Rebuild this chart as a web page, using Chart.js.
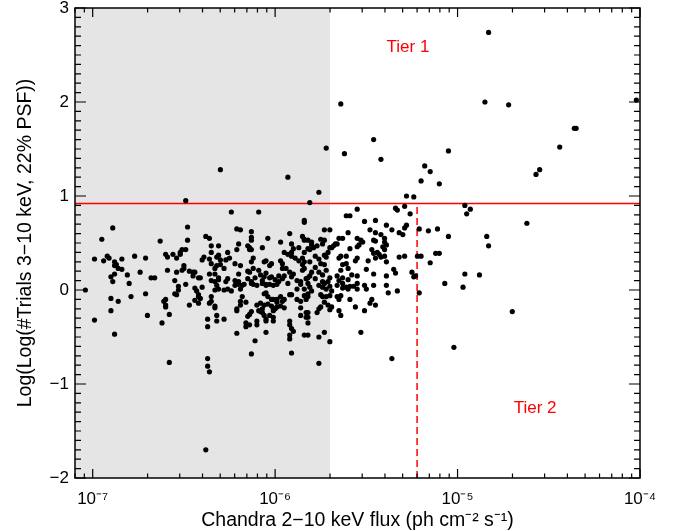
<!DOCTYPE html>
<html>
<head>
<meta charset="utf-8">
<script src="https://cdn.jsdelivr.net/npm/chart.js@4.4.1/dist/chart.umd.min.js"></script>
<style>
  body { margin: 0; background: #fff; }
  canvas { display: block; }
</style>
</head>
<body>
<canvas id="chart" width="687" height="531"></canvas>
<script>
// log10 of Chandra 2-10 keV flux, one per source (rows match logTrials)
const logFlux = [
  // outliers
  -4.83,-5.64,-4.85,-4.72,-4.02,-4.36,-4.35,-4.44,-4.55,-4.57,
  -5.46,-5.72,-5.62,-5.42,-5.05,-5.18,-5.15,-6.30,-5.93,-5.76,
  -5.81,-5.20,-5.10,-5.28,-5.24,-6.49,-6.24,-6.09,-4.96,-4.93,
  -4.95,-4.62,-4.83,-5.02,-4.70,-5.36,-6.38,-6.37,-6.36,-6.37,
  -6.58,-6.88,-6.99,-5.76,-5.70,-6.13,-5.91,-6.11,
  // bright side
  -5.21,-5.16,-5.11,-5.05,-5.20,-5.12,-5.10,-5.15,-5.07,-4.97,
  -4.96,-4.88,-5.21,-4.84,
  // 2e-6 .. 6e-6, upper band
  -5.55,-5.34,-5.33,-5.29,-5.26,-5.61,-5.59,-5.51,-5.45,-5.39,
  -5.32,-5.30,-5.29,-5.28,-5.36,-5.48,-5.45,-5.42,-5.40,-5.73,
  -5.70,-5.84,-5.75,-5.73,-5.65,-5.63,-5.60,-5.55,-5.53,-5.52,
  -5.54,-5.55,-5.59,-5.67,-5.46,-5.45,-5.40,-5.41,-5.40,-5.39,
  -5.47,-5.46,-5.44,-5.43,-5.42,-5.40,-5.45,-5.49,-5.56,-5.55,
  -5.61,-5.64,-5.65,-5.69,-5.68,-5.66,-5.39,-5.32,-5.29,-5.22,
  -5.63,-5.61,-5.64,-5.60,-5.50,-5.46,-5.39,-5.35,-5.34,-5.25,
  -5.23,-5.24,-5.58,-5.55,-5.66,-5.63,-5.65,-5.60,-5.70,
  -5.82,-5.80,-5.80,-5.81,-5.79,-5.77,-5.74,-5.78,-5.76,-5.73,
  -5.72,-5.71,-5.70,-5.81,-5.78,-5.75,-5.73,-5.84,-5.80,-5.76,
  -5.74,-5.72,-5.82,-5.78,-5.74,-5.71,
  // 2e-6 .. 6e-6, lower band
  -5.82,-5.82,-5.81,-5.80,-5.76,-5.74,-5.73,-5.72,-5.70,-5.69,
  -5.66,-5.63,-5.63,-5.61,-5.60,-5.59,-5.57,-5.55,-5.55,-5.51,
  -5.50,-5.46,-5.39,-5.38,-5.33,-5.75,-5.74,-5.72,-5.70,-5.73,
  -5.71,-5.66,-5.64,-5.65,-5.59,-5.69,-5.70,-5.65,-5.64,-5.56,
  -5.51,-5.48,-5.47,-5.45,-5.75,-5.76,-5.77,-5.82,-5.83,-5.82,
  -5.73,-5.76,-5.82,-5.84,-5.53,
  // 4e-7 .. 2e-6, lower band
  -6.44,-6.40,-6.42,-6.41,-6.42,-6.35,-6.35,-6.36,-6.33,-6.33,
  -6.32,-6.33,-6.31,-6.28,-6.26,-6.24,-6.22,-6.20,-6.19,-6.18,
  -6.17,-6.13,-6.12,-6.10,-6.07,-6.05,-6.03,-6.01,-5.99,-5.93,
  -5.88,-5.86,-5.84,-5.82,-6.06,-6.05,-6.04,-6.02,-6.01,-5.99,
  -5.97,-5.96,-5.95,-5.92,-5.91,-5.88,-5.86,-5.84,-5.83,-6.18,
  -6.19,-6.21,-6.21,-6.16,-6.19,-6.10,-6.08,-6.06,-6.07,-6.04,
  -6.02,-6.01,-6.01,-5.99,-5.97,-5.95,-6.03,-6.01,-6.09,-6.14,
  -6.15,-6.13,-6.07,-6.06,-6.05,-6.01,-6.00,-5.99,-5.86,-5.82,
  -5.83,-5.86,-6.21,-6.05,-6.16,-6.16,-6.14,-6.10,-6.10,-6.05,
  -5.92,-5.91,-5.92,-5.92,-5.90,-5.92,-6.37,-6.37,-6.32,-6.32,
  -6.28,-6.08,
  // 4e-7 .. 2e-6, upper band
  -5.84,-5.84,-6.21,-6.19,-6.13,-6.13,-6.13,-6.38,-6.36,-6.04,
  -5.97,-5.92,-5.85,-5.84,-6.20,-6.35,-6.31,-6.15,-6.14,-6.14,
  -6.13,-6.07,-6.21,-6.35,-6.26,-5.91,-5.90,-5.91,-5.95,-5.93,
  -5.87,-5.84,-5.82,-6.39,-6.40,-6.36,-6.32,-6.31,-6.30,-6.27,
  -6.25,-6.35,-6.33,-6.32,-6.30,-6.28,-6.22,-6.19,-6.12,-6.13,
  -6.06,-6.05,-6.03,-6.02,-5.97,-5.96,-5.96,-5.91,-5.89,-5.87,
  -5.85,-5.84,-5.85,-5.85,-5.94,-5.92,-5.90,-6.36,-6.33,-6.41,
  -6.31,-6.31,-6.26,-6.20,-6.15,-6.14,-6.12,-6.09,-6.15,-6.13,
  -6.11,-6.08,-6.06,-6.05,-6.03,-6.02,-6.00,-5.98,-6.07,-6.05,
  -5.98,-5.96,-5.95,-5.91,-5.88,-5.86,-5.83,-5.81,-6.22,-6.20,
  -6.35,-6.33,-6.27,-6.44,
  // faintest, upper band
  -6.99,-6.95,-6.89,-6.94,-6.92,-6.91,-6.88,-6.84,-6.88,-6.87,
  -6.86,-6.84,-6.88,-6.90,-6.89,-6.81,-6.80,-6.77,-6.71,-6.74,
  -6.68,-6.66,-6.63,-6.60,-6.59,-6.56,-6.54,-6.52,-6.51,-6.49,
  -6.52,-6.48,-6.48,-6.50,-6.50,-6.59,-6.54,-6.51,-6.47,-6.45,
  -6.45,-6.42,-6.55,-6.49,
  // faintest, lower band
  -6.90,-6.86,-6.79,-6.71,-6.90,-6.70,-6.62,-6.58,-6.60,-6.61,
  -6.60,-6.60,-6.55,-6.54,-6.53,-6.53,-6.47,-6.43,-6.44,-6.42,
  -7.04
];

// Log(Log(#Trials 3-10 keV, 22% PSF))
const logTrials = [
  2.74,1.98,2.00,1.97,2.02,1.72,1.72,1.52,1.28,1.23,
  1.60,1.51,1.45,1.39,1.48,1.32,1.26,1.28,1.20,1.04,
  0.93,1.16,1.13,1.00,0.99,0.95,0.83,0.83,0.90,0.86,
  0.81,0.71,0.47,-0.61,-0.23,-0.73,-1.70,-0.81,-0.87,-0.73,
  -0.77,-0.47,-0.32,-0.78,-0.55,-0.68,-0.67,-0.54,

  0.65,0.63,0.65,0.57,0.36,0.39,0.39,0.29,0.07,0.03,
  0.17,0.16,-0.03,0.57,

  0.86,0.87,0.85,0.89,0.81,0.79,0.79,0.73,0.74,0.69,
  0.61,0.59,0.66,0.69,0.64,0.64,0.61,0.59,0.55,0.64,
  0.64,0.53,0.54,0.53,0.55,0.55,0.61,0.55,0.53,0.51,
  0.48,0.46,0.44,0.49,0.53,0.52,0.51,0.46,0.43,0.48,
  0.43,0.39,0.40,0.38,0.35,0.36,0.34,0.31,0.31,0.34,
  0.36,0.36,0.34,0.45,0.47,0.49,0.30,0.35,0.36,0.36,
  0.27,0.28,0.21,0.23,0.22,0.17,0.15,0.22,0.18,0.19,
  0.15,0.14,0.16,0.15,0.15,0.13,0.10,0.11,0.13,
  0.53,0.51,0.48,0.43,0.45,0.47,0.49,0.36,0.33,0.37,
  0.35,0.40,0.45,0.30,0.24,0.28,0.27,0.23,0.19,0.19,
  0.16,0.21,0.13,0.12,0.09,0.09,

  -0.04,-0.07,0.03,-0.01,0.05,0.03,0.07,0.01,0.04,-0.01,
  0.05,0.07,0.02,0.03,0.01,0.04,0.04,0.01,0.07,0.05,
  0.01,0.05,0.05,-0.03,-0.01,-0.05,-0.07,-0.07,-0.06,-0.13,
  -0.16,-0.07,-0.06,-0.10,-0.10,-0.18,-0.21,-0.22,-0.27,-0.18,
  -0.22,-0.14,-0.10,-0.16,-0.18,-0.20,-0.24,-0.24,-0.29,-0.35,
  -0.45,-0.50,-0.48,-0.48,-0.45,

  0.02,0.03,-0.05,-0.09,-0.14,-0.07,-0.12,-0.14,-0.17,-0.19,
  0.05,0.00,0.01,0.00,0.01,-0.01,0.05,0.06,0.01,0.05,
  0.06,0.07,0.06,0.05,0.07,0.05,0.06,0.05,0.06,0.07,
  0.01,0.06,0.01,0.07,-0.04,-0.03,-0.07,-0.10,-0.10,-0.10,
  -0.07,-0.12,-0.10,-0.05,-0.05,-0.10,-0.12,-0.06,-0.10,-0.07,
  -0.16,-0.20,-0.22,-0.13,-0.12,-0.16,-0.14,-0.16,-0.20,-0.15,
  -0.17,-0.20,-0.22,-0.18,-0.17,-0.19,-0.27,-0.29,-0.22,-0.26,
  -0.28,-0.23,-0.24,-0.27,-0.31,-0.33,-0.20,-0.13,-0.19,-0.29,
  -0.24,-0.27,-0.46,-0.45,-0.39,-0.35,-0.37,-0.37,-0.33,-0.33,
  -0.33,-0.41,-0.48,-0.52,-0.44,-0.37,-0.31,-0.39,-0.33,-0.27,
  -0.31,-0.23,

  0.74,0.72,0.65,0.64,0.62,0.56,0.53,0.57,0.55,0.55,
  0.51,0.60,0.57,0.54,0.49,0.47,0.47,0.47,0.45,0.43,
  0.43,0.45,0.43,0.40,0.40,0.49,0.44,0.40,0.40,0.38,
  0.45,0.40,0.44,0.35,0.32,0.33,0.35,0.37,0.32,0.32,
  0.34,0.28,0.23,0.26,0.27,0.23,0.28,0.26,0.34,0.30,
  0.30,0.31,0.26,0.28,0.31,0.28,0.23,0.36,0.34,0.31,
  0.34,0.30,0.27,0.21,0.23,0.19,0.17,0.17,0.17,0.13,
  0.13,0.11,0.12,0.17,0.20,0.19,0.23,0.21,0.12,0.09,
  0.13,0.16,0.14,0.18,0.13,0.14,0.11,0.15,0.10,0.06,
  0.09,0.12,0.15,0.14,0.10,0.09,0.12,0.15,0.10,0.09,
  0.10,0.09,0.09,0.19,

  0.33,0.54,0.66,0.31,0.36,0.34,0.30,0.33,0.26,0.27,
  0.23,0.22,0.17,0.14,0.09,0.16,0.07,0.36,0.34,0.19,
  0.13,0.13,0.52,0.38,0.35,0.38,0.34,0.40,0.43,0.43,
  0.38,0.67,0.53,0.26,0.23,0.21,0.19,0.21,0.20,0.19,
  0.15,0.13,0.10,0.06,

  -0.09,-0.12,-0.07,-0.04,-0.22,-0.27,-0.35,-0.26,-0.10,-0.12,
  -0.16,-0.18,-0.04,-0.05,0.00,0.04,-0.16,-0.01,-0.11,-0.07,
  0.00
];

const xDecades = [-7, -6, -5, -4];
const yMajor = [-2, -1, 0, 1, 2, 3];
const fluxMin = 8e-8, fluxMax = 1e-4;
const trialsMin = -2, trialsMax = 3;
const shadeFlux = 2e-6;   // grey region upper edge
const tier1Cut = 0.92;    // horizontal red line
const tier2Flux = 6e-6;   // dashed red line
const tierLabels = [
  { text: 'Tier 1', x: 5.35e-6, y: 2.58 },
  { text: 'Tier 2', x: 2.66e-5, y: -1.26 }
];

const supMap = { '-': '\u207B', '0': '\u2070', '1': '\u00B9', '2': '\u00B2', '3': '\u00B3',
  '4': '\u2074', '5': '\u2075', '6': '\u2076', '7': '\u2077', '8': '\u2078', '9': '\u2079' };
const sup = n => String(n).split('').map(c => supMap[c]).join('');

const points = logFlux.map((lx, i) => ({ x: Math.pow(10, lx), y: logTrials[i] }));

const isDecade = v => {
  const e = Math.log10(v);
  return Math.abs(e - Math.round(e)) < 1e-6;
};

const framePlugin = {
  id: 'frame',
  beforeDatasetsDraw(chart) {
    const { ctx, chartArea: a, scales: { x } } = chart;
    ctx.save();
    ctx.fillStyle = '#e5e5e5';
    ctx.fillRect(a.left, a.top, x.getPixelForValue(shadeFlux) - a.left, a.bottom - a.top);
    ctx.restore();
  },
  afterDraw(chart) {
    const { ctx, chartArea: a, scales: { x, y } } = chart;
    ctx.save();
    ctx.strokeStyle = '#000';
    ctx.lineWidth = 1.2;
    ctx.beginPath();
    x.ticks.forEach(t => {
      const px = x.getPixelForValue(t.value);
      const len = isDecade(t.value) ? 9 : 4.5;
      ctx.moveTo(px, a.bottom); ctx.lineTo(px, a.bottom - len);
      ctx.moveTo(px, a.top); ctx.lineTo(px, a.top + len);
    });
    y.ticks.forEach(t => {
      const py = y.getPixelForValue(t.value);
      const len = yMajor.includes(t.value) ? 11 : 6;
      ctx.moveTo(a.left, py); ctx.lineTo(a.left + len, py);
      ctx.moveTo(a.right, py); ctx.lineTo(a.right - len, py);
    });
    ctx.stroke();
    ctx.lineWidth = 1.5;
    ctx.strokeRect(a.left, a.top, a.right - a.left, a.bottom - a.top);

    ctx.fillStyle = '#ff0000';
    ctx.font = '17px "Liberation Sans", Arial, sans-serif';
    ctx.textAlign = 'center';
    ctx.textBaseline = 'middle';
    tierLabels.forEach(l => ctx.fillText(l.text, x.getPixelForValue(l.x), y.getPixelForValue(l.y)));
    ctx.restore();
  }
};

Chart.defaults.font.family = '"Liberation Sans", Arial, sans-serif';
Chart.defaults.color = '#000';

new Chart(document.getElementById('chart'), {
  type: 'scatter',
  data: {
    datasets: [
      {
        data: points,
        pointRadius: 2.6,
        pointBackgroundColor: '#000',
        backgroundColor: '#000',
        pointBorderWidth: 0,
        order: 0
      },
      {
        data: [{ x: fluxMin, y: tier1Cut }, { x: fluxMax, y: tier1Cut }],
        showLine: true,
        borderColor: '#ff0000',
        borderWidth: 1.5,
        pointRadius: 0,
        order: 1
      },
      {
        data: [{ x: tier2Flux, y: trialsMin }, { x: tier2Flux, y: tier1Cut }],
        showLine: true,
        borderColor: '#ff0000',
        borderWidth: 1.5,
        borderDash: [7, 4],
        pointRadius: 0,
        order: 1
      }
    ]
  },
  options: {
    responsive: false,
    animation: false,
    layout: { padding: { top: 8, right: 47, left: 0, bottom: 0 } },
    plugins: { legend: { display: false }, tooltip: { enabled: false } },
    scales: {
      x: {
        type: 'logarithmic',
        min: fluxMin,
        max: fluxMax,
        grid: { display: false, drawTicks: false },
        border: { display: false },
        afterBuildTicks: s => {
          const t = [];
          for (let e = xDecades[0] - 1; e <= xDecades[xDecades.length - 1]; e++) {
            for (let m = 1; m <= 9; m++) {
              const v = m * Math.pow(10, e);
              if (v >= fluxMin * 0.999 && v <= fluxMax * 1.001) t.push({ value: v });
            }
          }
          s.ticks = t;
        },
        afterFit: s => { s.height = 53; s.paddingLeft = 0; s.paddingRight = 0; },
        ticks: {
          autoSkip: false,
          maxRotation: 0,
          minRotation: 0,
          padding: 11,
          font: { size: 17 },
          callback: v => isDecade(v) ? '10' + sup(Math.round(Math.log10(v))) : ''
        },
        title: {
          display: true,
          text: 'Chandra 2\u221210 keV flux (ph cm\u207B\u00B2 s\u207B\u00B9)',
          font: { size: 19.5, lineHeight: 1.1 },
          padding: { top: 0, bottom: 0 }
        }
      },
      y: {
        min: trialsMin,
        max: trialsMax,
        grid: { display: false, drawTicks: false },
        border: { display: false },
        afterBuildTicks: s => {
          const t = [];
          for (let i = 0; i <= Math.round((trialsMax - trialsMin) * 10); i++) {
            t.push({ value: Math.round((trialsMin + i * 0.1) * 10) / 10 });
          }
          s.ticks = t;
        },
        afterFit: s => { s.width = 75; s.paddingTop = 0; s.paddingBottom = 0; },
        ticks: {
          autoSkip: false,
          padding: 6,
          font: { size: 17 },
          callback: v => yMajor.includes(v) ? String(v).replace('-', '\u2212') : ''
        },
        title: {
          display: true,
          text: 'Log(Log(#Trials 3\u221210 keV, 22% PSF))',
          font: { size: 19.5, lineHeight: 1.2 },
          padding: { top: 14, bottom: 0 }
        }
      }
    }
  },
  plugins: [framePlugin]
});
</script>
</body>
</html>
